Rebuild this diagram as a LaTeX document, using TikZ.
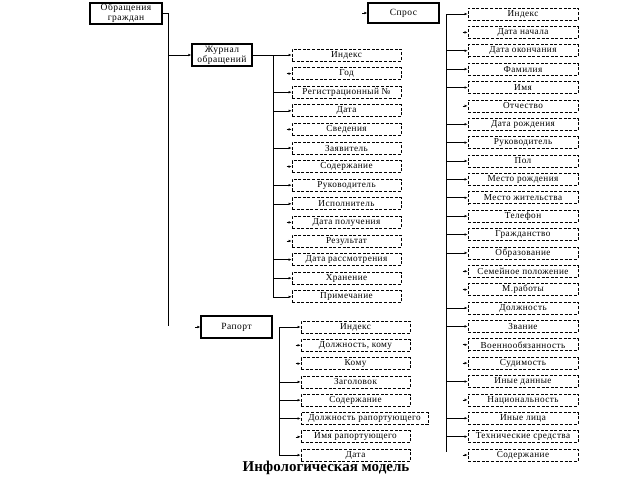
\documentclass[tikz,border=0pt]{standalone}
\usepackage{fontspec}
\setmainfont{Liberation Serif}
\newfontfamily\boxfont[LetterSpace=5]{Liberation Serif}
\usetikzlibrary{arrows.meta}
\tikzset{
  mainbox/.style={draw, line width=1.3pt, minimum height=21pt, inner sep=0pt, align=center, font=\boxfont\fontsize{9.5}{10}\selectfont},
  fld/.style={draw, dash pattern=on 3pt off 1.6pt, line width=0.75pt, minimum width=109pt, minimum height=12pt, inner sep=0pt, font=\boxfont\fontsize{9.2}{9.5}\selectfont},
  conn/.style={line width=0.6pt},
  arr/.style={line width=0.6pt, -{Latex[length=3pt,width=2.6pt]}},
  stub/.style={arr, shorten <=0pt},
  ttl/.style={font=\bfseries\fontsize{15}{16}\selectfont}
}
\begin{document}
\begin{tikzpicture}[x=1pt,y=-1pt]
\useasboundingbox (0,0) rectangle (640,480);
% main boxes
\node[mainbox, minimum width=72pt] (obr) at (126,13.5) {Обращения\\граждан};
\node[mainbox, minimum width=60pt, minimum height=22pt] (zhur) at (222,55) {Журнал\\обращений};
\node[mainbox, minimum width=71pt, minimum height=20pt] (spros) at (403.5,13) {Спрос};
\node[mainbox, minimum width=71pt, minimum height=22pt] (rap) at (236.5,327) {Рапорт};
% left trunk
\coordinate (v1top) at (168,13.5);
\coordinate (v1bot) at (168,326);
\draw[conn] (obr.east) -- (v1top) -- (v1bot);
\draw[arr] (v1top |- zhur.west) -- (zhur.west);
\draw[arr] ([xshift=-5pt]spros.west) -- (spros.west);
\draw[arr] ([xshift=-5pt]rap.west) -- (rap.west);
% middle column (Журнал)
\foreach \t [count=\i] in {Индекс, Год, Регистрационный №, Дата, Сведения, Заявитель, Содержание, Руководитель, Исполнитель, Дата получения, Результат, Дата рассмотрения, Хранение, Примечание}
  \node[fld] (m\i) at (346.5, 55+18.6*\i-18.6) {\t};
\coordinate (v2top) at (273,55);
\coordinate (v2bot) at (273,297.2);
\draw[conn] (zhur.east) -- (v2top) -- (v2bot);
\foreach \i in {1,3,4,6,8,9,12,13,14}
  \draw[arr] (v2top |- m\i.west) -- (m\i.west);
\foreach \i in {2,5,7,10,11}
  \draw[stub] ([xshift=-5pt]m\i.west) -- (m\i.west);
% right column (Спрос)
\foreach \t [count=\i] in {Индекс, Дата начала, Дата окончания, Фамилия, Имя, Отчество, Дата рождения, Руководитель, Пол, Место рождения, Место жительства, Телефон, Гражданство, Образование, Семейное положение, М.работы, Должность, Звание, Военнообязанность, Судимость, Иные данные, Национальность, Иные лица, Технические средства, Содержание}
  \node[fld, minimum width=110pt] (r\i) at (523, 14+18.375*\i-18.375) {\t};
\coordinate (v3top) at (446,14);
\coordinate (v3bot) at (446,452);
\draw[conn] (v3top) -- (v3bot);
\foreach \i in {1,3,4,5,7,8,9,10,11,12,13,14,17,18,21,23,24}
  \draw[arr] (v3top |- r\i.west) -- (r\i.west);
\foreach \i in {2,6,15,16,19,20,22,25}
  \draw[stub] ([xshift=-5pt]r\i.west) -- (r\i.west);
% Рапорт column
\foreach \t [count=\i] in {Индекс, {Должность, кому}, Кому, Заголовок, Содержание, Должность рапортующего, Имя рапортующего, Дата}
  \node[fld, minimum width={\i==6 ? 127 : 109}, xshift={\i==6 ? 9 : 0}] (p\i) at (355.5, 327+18.3*\i-18.3) {\t};
\coordinate (v4top) at (279,327);
\coordinate (v4bot) at (279,455.1);
\draw[conn] (v4top) -- (v4bot);
\foreach \i in {1,4,5,6,8}
  \draw[arr] (v4top |- p\i.west) -- (p\i.west);
\foreach \i in {2,3,7}
  \draw[stub] ([xshift=-5pt]p\i.west) -- (p\i.west);
% title
\node[ttl] (title) at (326,468) {Инфологическая модель};
\end{tikzpicture}
\end{document}
